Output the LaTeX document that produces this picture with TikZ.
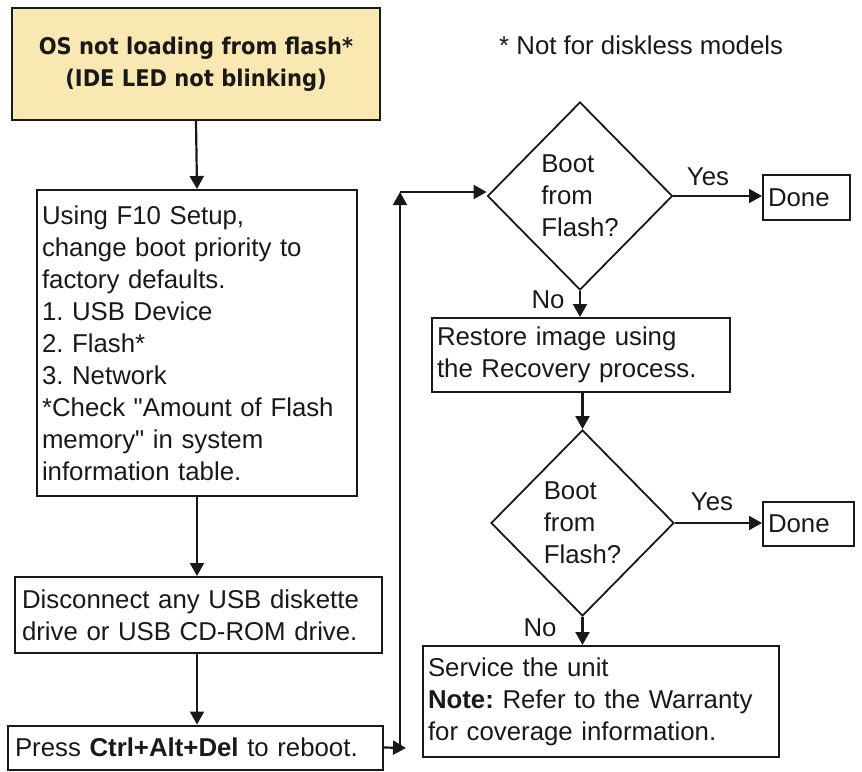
\documentclass[tikz,border=0pt]{standalone}
\usepackage{fontspec}
\setmainfont{Liberation Sans}
\newfontfamily\titlefont[FakeStretch=0.915]{DejaVu Sans}
\usetikzlibrary{shapes.geometric,arrows.meta}
\definecolor{titlefill}{RGB}{250,232,178}
\definecolor{ink}{RGB}{25,25,25}
\tikzset{
  txt/.style={font=\fontsize{25.8}{32}\selectfont, text=ink},
  box/.style={txt, draw=ink, line width=2pt, rectangle, inner xsep=5pt, inner ysep=0pt, align=left},
  dec/.style={txt, draw=ink, line width=1.8pt, diamond, inner sep=0pt, align=left},
  arr/.style={draw=ink, line width=2.2pt, -{Triangle[length=13pt,width=14pt]}},
  lbl/.style={txt, inner sep=0pt}
}
\begin{document}
\frenchspacing
\begin{tikzpicture}[x=1pt,y=-1pt]
\useasboundingbox (0,0) rectangle (862,771);
% left column
\node[box, fill=titlefill, line width=2.4pt, align=center, minimum width=368pt, minimum height=112pt, font=\titlefont\bfseries\fontsize{23}{32}\selectfont] (top) at (196,64)
  {OS not loading from flash*\\(IDE LED not blinking)};
\node[box, minimum width=320pt, minimum height=306pt, text width=310pt] (setup) at (197,343)
  {Using F10 Setup,\\change boot priority to\\factory defaults.\\1. USB Device\\2. Flash*\\3. Network\\{}*Check \textquotedbl Amount of Flash\\memory\textquotedbl{} in system\\information table.};
\node[box, minimum width=367pt, minimum height=76pt, text width=353pt, inner xsep=7pt] (disc) at (198.5,615)
  {Disconnect any USB diskette\\drive or USB CD-ROM drive.};
\node[box, minimum width=375pt, minimum height=44pt, text width=361pt, inner xsep=7pt] (press) at (195.5,747.5)
  {Press \textbf{Ctrl+Alt+Del} to reboot.};
% note
\node[lbl, anchor=west] (note) at (499,45) {* Not for diskless models};
% right column
\node[dec, minimum width=185pt, minimum height=188pt] (d1) at (580,196) {Boot\\from\\Flash?};
\node[box, minimum width=87pt, minimum height=45pt, text width=77pt] (done1) at (806.5,197.5) {Done};
\node[box, minimum width=298pt, minimum height=74pt, text width=288pt] (restore) at (581,355)
  {Restore image using\\the Recovery process.};
\node[dec, minimum width=183pt, minimum height=186pt] (d2) at (582.5,523) {Boot\\from\\Flash?};
\node[box, minimum width=91pt, minimum height=44pt, text width=81pt] (done2) at (808.5,524) {Done};
\node[box, minimum width=356pt, minimum height=111pt, text width=346pt] (service) at (601,701.5)
  {Service the unit\\\textbf{Note:} Refer to the Warranty\\for coverage information.};
% labels
\node[lbl] (yes1) at (708,177) {Yes};
\node[lbl] (no1) at (548,300) {No};
\node[lbl] (yes2) at (712,502) {Yes};
\node[lbl] (no2) at (540,628) {No};
% connectors
\draw[arr] (top.south) -- (setup.north);
\draw[arr] (setup.south) -- (disc.north -| setup.south);
\draw[arr] (disc.south -| setup.south) -- (press.north -| setup.south);
\coordinate (pe) at (406,748);
\coordinate (lb) at (400,750);
\coordinate (lt) at (400,192);
\draw[arr] (press.east) -- (pe);
\draw[arr] (lb) -- (lt);
\draw[arr] (lt) -- (lt -| d1.west);
\draw[arr] (d1.east) -- (done1.west |- d1.east);
\draw[arr] (d1.south) -- (restore.north -| d1.south);
\draw[arr] (restore.south -| d2.north) -- (d2.north);
\draw[arr] (d2.east) -- (done2.west |- d2.east);
\draw[arr] (d2.south) -- (service.north -| d2.south);
\end{tikzpicture}
\end{document}
